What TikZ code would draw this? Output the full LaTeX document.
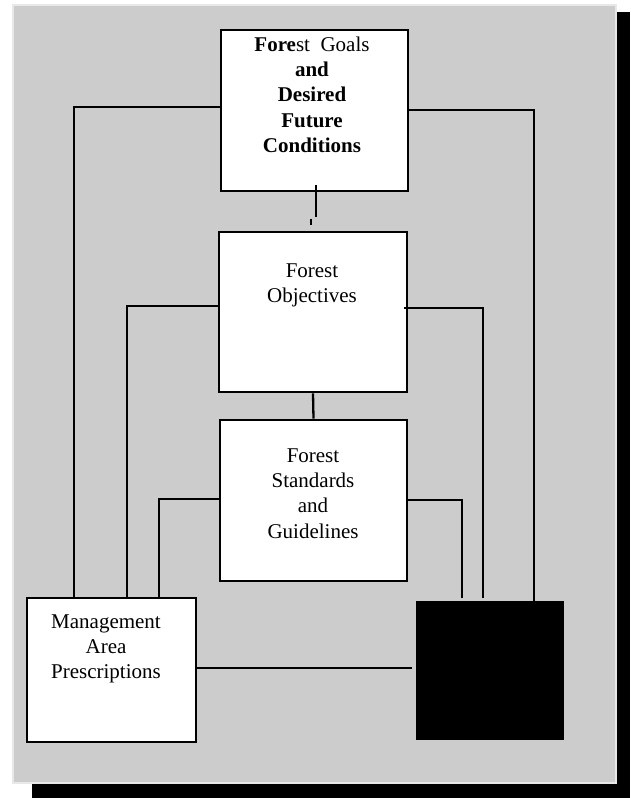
\documentclass[tikz,border=0pt]{standalone}
\usepackage{fontspec}
\setmainfont{Liberation Serif}
\definecolor{panelgray}{HTML}{CCCCCC}
\definecolor{panelrim}{HTML}{E8E8E8}
\tikzset{
  box/.style={draw=black, line width=2.6pt, fill=white, rectangle, inner sep=0pt},
  solidbox/.style={draw=black, line width=1pt, fill=black, rectangle, inner sep=0pt},
  conn/.style={draw=black, line width=2.3pt, line cap=butt},
  txt/.style={anchor=base, inner sep=0pt, font=\fontsize{21pt}{25pt}\selectfont}
}
\begin{document}
\begin{tikzpicture}[x=1pt, y=-1pt]
  \useasboundingbox (0,0) rectangle (630,798);
  % drop shadow and grey panel
  \fill[black] (32,12) rectangle (629.5,798);
  \filldraw[fill=panelgray, draw=panelrim, line width=2.5pt] (13,5) rectangle (616,783);

  % boxes
  \node[box, minimum width=187pt, minimum height=161pt] (goals) at (314.5,110.5) {};
  \node[box, minimum width=188pt, minimum height=160pt] (obj)   at (313,312) {};
  \node[box, minimum width=187pt, minimum height=161pt] (std)   at (313.5,500.5) {};
  \node[box, minimum width=169pt, minimum height=144pt] (mgmt)  at (111.5,670) {};
  \node[solidbox, minimum width=147pt, minimum height=138pt] (blk) at (489.5,670) {};

  % box texts
  \node[txt] (g1) at (312,51)    {{\bfseries Fore}st\ \ Goals};
  \node[txt, font=\fontsize{21pt}{25pt}\selectfont\bfseries] (g2) at (312,76)    {and};
  \node[txt, font=\fontsize{21pt}{25pt}\selectfont\bfseries] (g3) at (312,101.5) {Desired};
  \node[txt, font=\fontsize{21pt}{25pt}\selectfont\bfseries] (g4) at (312,127)   {Future};
  \node[txt, font=\fontsize{21pt}{25pt}\selectfont\bfseries] (g5) at (312,152.5) {Conditions};

  \node[txt] (o1) at (312,277) {Forest};
  \node[txt] (o2) at (312,302) {Objectives};

  \node[txt] (s1) at (313,462)   {Forest};
  \node[txt] (s2) at (313,487)   {Standards};
  \node[txt] (s3) at (313,512.5) {and};
  \node[txt] (s4) at (313,538)   {Guidelines};

  \node[txt] (m1) at (106,628) {Management};
  \node[txt] (m2) at (106,653) {Area};
  \node[txt] (m3) at (106,678) {Prescriptions};

  % connectors to the management box
  \draw[conn] ([yshift=3.5pt]goals.west) -| ([xshift=-37.5pt]mgmt.north);
  \draw[conn] ([yshift=6pt]obj.west)     -| ([xshift=15.5pt]mgmt.north);
  \draw[conn] ([yshift=1.5pt]std.west)   -| ([xshift=47.5pt]mgmt.north);

  % connectors to the black box
  \draw[conn] ([yshift=0.5pt]goals.east) -| ([xshift=44.5pt]blk.north);
  \draw[conn] ([xshift=-4pt,yshift=4pt]obj.east) -| ([xshift=-6.5pt,yshift=3pt]blk.north);
  \draw[conn] ([yshift=0.5pt]std.east)   -| ([xshift=-27.5pt,yshift=3pt]blk.north);
  \draw[conn] ([yshift=2pt]mgmt.east) -- ([xshift=-4pt,yshift=2pt]blk.west);

  % vertical links between the stacked boxes
  \draw[conn] ([xshift=1.5pt,yshift=7pt]goals.south) -- ([xshift=3pt,yshift=14pt]obj.north);
  \draw[conn] ([xshift=-2pt,yshift=12pt]obj.north) -- ([xshift=-2pt,yshift=6pt]obj.north);
  \draw[conn] (obj.south) -- (std.north);
\end{tikzpicture}
\end{document}
